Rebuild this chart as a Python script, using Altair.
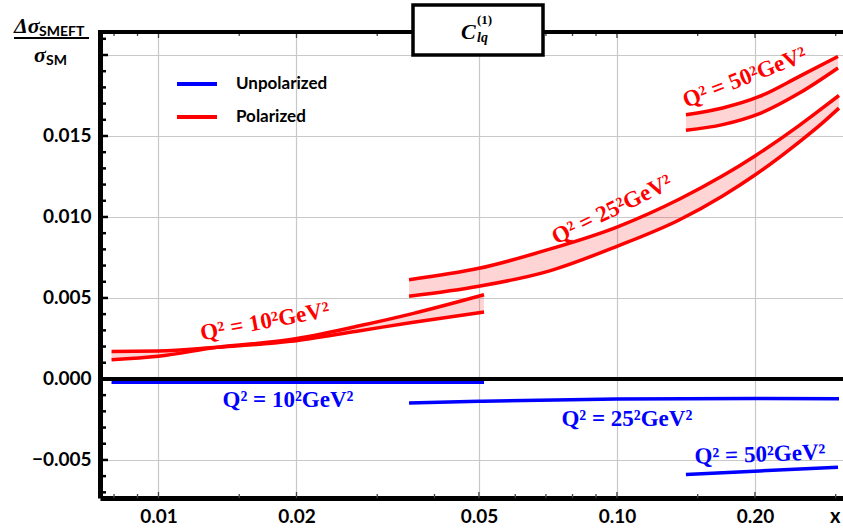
import altair as alt
import pandas as pd

# ---------------- data ----------------
# Polarized, Q^2 = 10^2 GeV^2 (two edges of the band)
pol10_x = [0.0079, 0.01, 0.0134, 0.0194, 0.0271, 0.036, 0.0513]
pol10_a = [0.00170, 0.00172, 0.00195, 0.00232, 0.00295, 0.00350, 0.00413]
pol10_b = [0.00119, 0.00140, 0.00195, 0.00243, 0.00325, 0.00405, 0.00520]

# Polarized, Q^2 = 25^2 GeV^2
pol25_x = [0.0352, 0.05, 0.0707, 0.1, 0.137, 0.17, 0.2, 0.25, 0.28, 0.305]
pol25_hi = [0.00613, 0.00683, 0.00798, 0.00938, 0.01111, 0.01254, 0.01377,
            0.01566, 0.01670, 0.01750]
pol25_lo = [0.00510, 0.00572, 0.00664, 0.00819, 0.00983, 0.01130, 0.01259,
            0.01464, 0.01578, 0.01672]

# Polarized, Q^2 = 50^2 GeV^2
pol50_x = [0.1414, 0.170, 0.2046, 0.25, 0.3035]
pol50_hi = [0.01631, 0.01673, 0.01744, 0.01868, 0.01991]
pol50_lo = [0.01535, 0.01570, 0.01638, 0.01765, 0.01920]

# Unpolarized
unp10_x = [0.0079, 0.02, 0.0513]
unp10_y = [-0.00020, -0.00021, -0.00021]
unp25_x = [0.0352, 0.05, 0.1, 0.2, 0.305]
unp25_y = [-0.00148, -0.00138, -0.00124, -0.00121, -0.00123]
unp50_x = [0.1414, 0.2046, 0.3035]
unp50_y = [-0.00590, -0.00568, -0.00545]

# curve labels
lab_text = ["Q² = 10²GeV²", "Q² = 25²GeV²", "Q² = 50²GeV²",
            "Q² = 10²GeV²", "Q² = 25²GeV²", "Q² = 50²GeV²"]
lab_x = [0.01706, 0.0975, 0.190, 0.01916, 0.1051, 0.2051]
lab_y = [0.00354, 0.01045, 0.0186, -0.00128, -0.00245, -0.00467]
lab_angle = [349.5, 334.0, 338.6, 0.0, 0.0, 358.0]
lab_series = ["Polarized", "Polarized", "Polarized",
              "Unpolarized", "Unpolarized", "Unpolarized"]

# axis ticks
x_major = [0.01, 0.02, 0.05, 0.1, 0.2]
x_minor = [0.008, 0.009, 0.015, 0.03, 0.04, 0.06, 0.07, 0.08, 0.09, 0.15, 0.3]
y_major = [-0.005, 0.0, 0.005, 0.010, 0.015, 0.020]
y_minor = [-0.007, -0.006, -0.004, -0.003, -0.002, -0.001,
           0.001, 0.002, 0.003, 0.004, 0.006, 0.007, 0.008, 0.009,
           0.011, 0.012, 0.013, 0.014, 0.016, 0.017, 0.018, 0.019, 0.021]

series_names = ["Unpolarized", "Polarized"]
series_colors = ["#0000ff", "#ff0000"]

# ---------------- tables ----------------
rows = []
def add(series, curve, xs, ys):
    for xv, yv in zip(xs, ys):
        rows.append({"series": series, "curve": curve, "x": xv, "y": yv})

add("Polarized", "p10a", pol10_x, pol10_a)
add("Polarized", "p10b", pol10_x, pol10_b)
add("Polarized", "p25h", pol25_x, pol25_hi)
add("Polarized", "p25l", pol25_x, pol25_lo)
add("Polarized", "p50h", pol50_x, pol50_hi)
add("Polarized", "p50l", pol50_x, pol50_lo)
add("Unpolarized", "u10", unp10_x, unp10_y)
add("Unpolarized", "u25", unp25_x, unp25_y)
add("Unpolarized", "u50", unp50_x, unp50_y)
lines_df = pd.DataFrame(rows)

band_rows = []
for name, xs, lo, hi in [("b10", pol10_x, pol10_a, pol10_b),
                         ("b25", pol25_x, pol25_lo, pol25_hi),
                         ("b50", pol50_x, pol50_lo, pol50_hi)]:
    for xv, l, h in zip(xs, lo, hi):
        band_rows.append({"band": name, "x": xv, "lo": l, "hi": h})
band_df = pd.DataFrame(band_rows)

labels_df = pd.DataFrame({"x": lab_x, "y": lab_y, "text": lab_text,
                          "angle": lab_angle, "series": lab_series})

W, H = 743, 466
xscale = alt.Scale(type="log", domain=[0.007455, 0.3112], nice=False)
yscale = alt.Scale(domain=[-0.00735, 0.02142], nice=False, zero=False)
cscale = alt.Scale(domain=series_names, range=series_colors)

TICKFONT = "Lato"
SERIF = "Liberation Serif"

AX = alt.Axis(values=x_major, format=".2f", grid=True, ticks=False, title=None,
              domain=True, domainColor="black", domainWidth=5,
              labelPadding=9, labelFontSize=19, labelFont=TICKFONT,
              labelFontWeight="bold", labelColor="black",
              gridColor="#c8c8c8", gridWidth=1.2)
AY = alt.Axis(values=y_major, title=None,
              labelExpr="datum.value > 0.019 ? '' : format(datum.value, '.3f')",
              grid=True, ticks=False, domain=True, domainColor="black",
              domainWidth=5, labelPadding=9, labelFontSize=19,
              labelFont=TICKFONT, labelFontWeight="bold",
              labelColor="black", gridColor="#c8c8c8", gridWidth=1.2)

def X(field):
    return alt.X(field, type="quantitative", scale=xscale, axis=AX, title=None)

def Y(field):
    return alt.Y(field, type="quantitative", scale=yscale, axis=AY, title=None)

legend = alt.Legend(orient="none", legendX=75, legendY=30,
                    symbolType="stroke", symbolSize=1600,
                    symbolStrokeWidth=4, rowPadding=3,
                    labelFont=TICKFONT, labelFontWeight="bold",
                    labelFontSize=17, labelColor="black",
                    labelOffset=17, padding=0)

bands = alt.Chart(band_df).mark_area(
    color="#ff0000", opacity=0.17, interpolate="monotone"
).encode(
    x=X("x"), y=Y("lo"), y2="hi:Q", detail="band:N",
)

zero_line = alt.Chart(pd.DataFrame({"y": [0.0]})).mark_rule(
    color="black", strokeWidth=4
).encode(y=Y("y"), x=alt.value(0), x2=alt.value(W))

lines = alt.Chart(lines_df).mark_line(
    strokeWidth=3.5, interpolate="monotone"
).encode(
    x=X("x"), y=Y("y"),
    color=alt.Color("series:N", scale=cscale, title=None, legend=legend),
    detail="curve:N",
)

labels = alt.Chart(labels_df).mark_text(
    font=SERIF, fontWeight="bold", fontSize=23,
    align="center", baseline="middle"
).encode(
    x=X("x"), y=Y("y"),
    text="text:N",
    angle=alt.Angle("angle:Q", scale=None),
    color=alt.Color("series:N", scale=cscale, legend=None),
)

# frame ticks (inward)
def yticks(vals, length, width):
    return alt.Chart(pd.DataFrame({"v": vals})).mark_rule(
        color="black", strokeWidth=width
    ).encode(y=Y("v"), x=alt.value(0), x2=alt.value(length))

def xticks(vals, length, top):
    y0 = 0 if top else H
    y1 = length if top else H - length
    return alt.Chart(pd.DataFrame({"v": vals})).mark_rule(
        color="#444444", strokeWidth=1.3
    ).encode(x=X("v"), y=alt.value(y0), y2=alt.value(y1))

one = pd.DataFrame({"a": [0]})
top_frame = alt.Chart(one).mark_rule(color="black", strokeWidth=4).encode(
    x=alt.value(-2), x2=alt.value(W), y=alt.value(0))

title_box = alt.Chart(one).mark_rect(
    fill="white", stroke="black", strokeWidth=3.5
).encode(x=alt.value(313), x2=alt.value(443), y=alt.value(-27), y2=alt.value(23))

def txt(s, x, y, size, font, style="normal", weight="bold", align="left",
        baseline="alphabetic"):
    return alt.Chart(one).mark_text(
        text=s, font=font, fontSize=size, fontStyle=style, fontWeight=weight,
        align=align, baseline=baseline, color="black"
    ).encode(x=alt.value(x), y=alt.value(y))

title_parts = [
    txt("C", 361, 7, 22, SERIF, style="italic"),
    txt("(1)", 377, -8, 13, SERIF),
    txt("lq", 377, 10, 14, SERIF, style="italic"),
]

ytitle_parts = [
    txt("Δσ", -86, 1, 22, SERIF, style="italic"),
    txt("SMEFT", -61, 4, 14, TICKFONT),
    txt("σ", -66, 30, 22, SERIF, style="italic"),
    txt("SM", -54, 33, 14, TICKFONT),
]
frac_line = alt.Chart(one).mark_rule(color="black", strokeWidth=2).encode(
    x=alt.value(-86), x2=alt.value(-11), y=alt.value(6))

xtitle = txt("x", 730, 491, 20, TICKFONT)

chart = alt.layer(
    bands, lines, zero_line, labels,
    yticks(y_minor, 6, 2.5), yticks(y_major, 8, 2.5),
    xticks(x_minor, 4, False), xticks(x_major, 6, False),
    xticks(x_minor, 4, True), xticks(x_major, 6, True),
    top_frame, title_box, *title_parts, *ytitle_parts, frac_line, xtitle,
).properties(
    width=W, height=H,
    padding={"left": 100, "top": 32, "right": 0, "bottom": 30},
    autosize=alt.AutoSizeParams(type="none"),
).configure_view(stroke=None).configure(background="white")

chart.save("out.html", embed_options={"renderer": "svg", "actions": False})
